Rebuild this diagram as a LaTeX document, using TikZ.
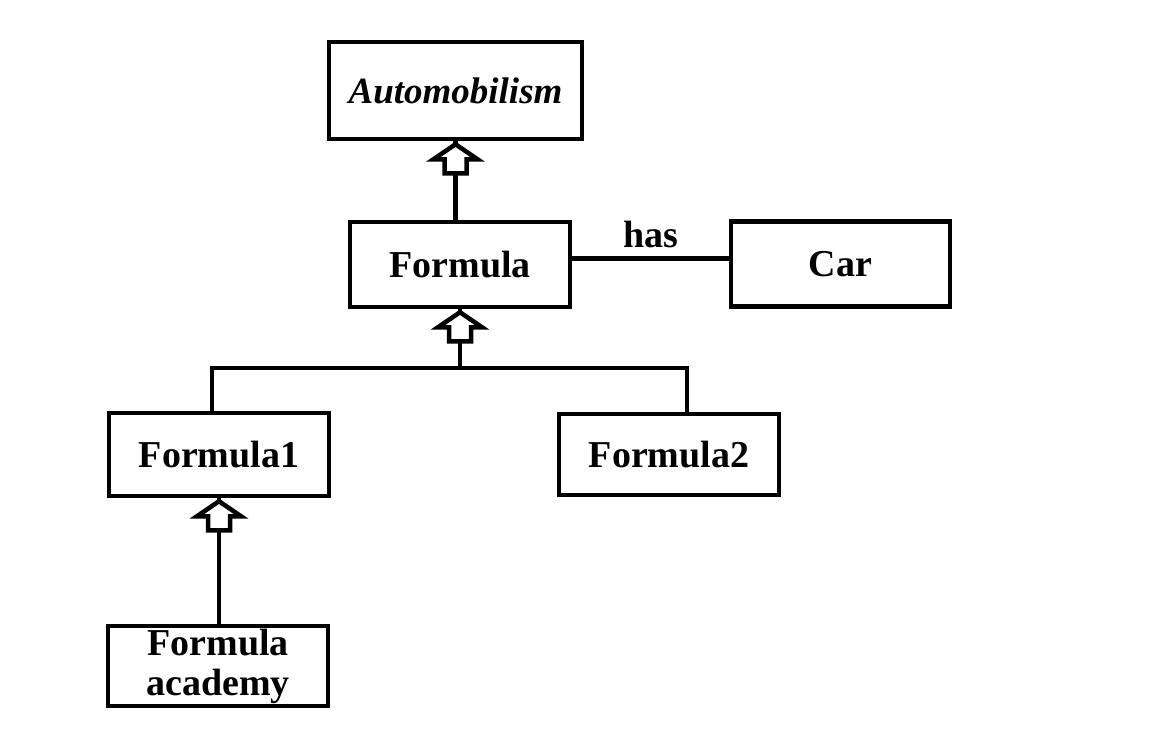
\documentclass[tikz,border=0pt]{standalone}
\usepackage{fontspec}
\setmainfont{Liberation Serif}
\usepackage{tikz}
\tikzset{
	box/.style={draw,line width=4.5pt,minimum width=220pt,minimum height=85pt,inner sep=0pt,font=\fontsize{38}{39}\selectfont\bfseries},
	link/.style={line width=4.5pt},
	inh/.pic={\draw[line width=4.5pt,fill=white] (0,0) -- (-22,15) -- (-11,15) -- (-11,29) -- (11,29) -- (11,15) -- (22,15) -- cycle;}
}

\begin{document}
\begin{tikzpicture}[x=1pt,y=-1pt]
	\useasboundingbox (0,0) rectangle (1152,755);

	\node [box,minimum width=253pt,minimum height=97pt,font=\fontsize{37}{38}\selectfont\bfseries\itshape] (auto) at (455.5,90.5) {Automobilism};
	\node [box] (formula) at (460,264.5) {Formula};
	\node [box,minimum width=219pt] (car) at (840.5,264) {Car};
	\node [box,minimum height=83pt] (formula1) at (219,454.5) {Formula1};
	\node [box,minimum height=81pt] (formula2) at (669,454.5) {Formula2};
	\node [box,minimum height=80pt,align=center,font=\fontsize{38}{40}\selectfont\bfseries] (academy) at (218,666) {Formula\\academy};

	\coordinate (barL) at (212,368);
	\coordinate (barR) at (687,368);

	\draw [link] ([yshift=6pt]formula.east) -- node [above=8pt,inner sep=0pt,font=\fontsize{38}{39}\selectfont\bfseries] (has) {has} ([yshift=6pt]formula.east -| car.west);
	\draw [link] (auto.south) -- (auto.south |- formula.north);
	\draw [link] (formula.south) -- (formula.south |- barL);
	\draw [link] (formula1.north -| barL) -- (barL) -- (barR) -- (formula2.north -| barR);
	\draw [link] (formula1.south) -- (formula1.south |- academy.north);

	\pic at ([yshift=-3pt]auto.south) {inh};
	\pic at ([yshift=-3pt]formula.south) {inh};
	\pic at ([yshift=-3pt]formula1.south) {inh};
\end{tikzpicture}
\end{document}
